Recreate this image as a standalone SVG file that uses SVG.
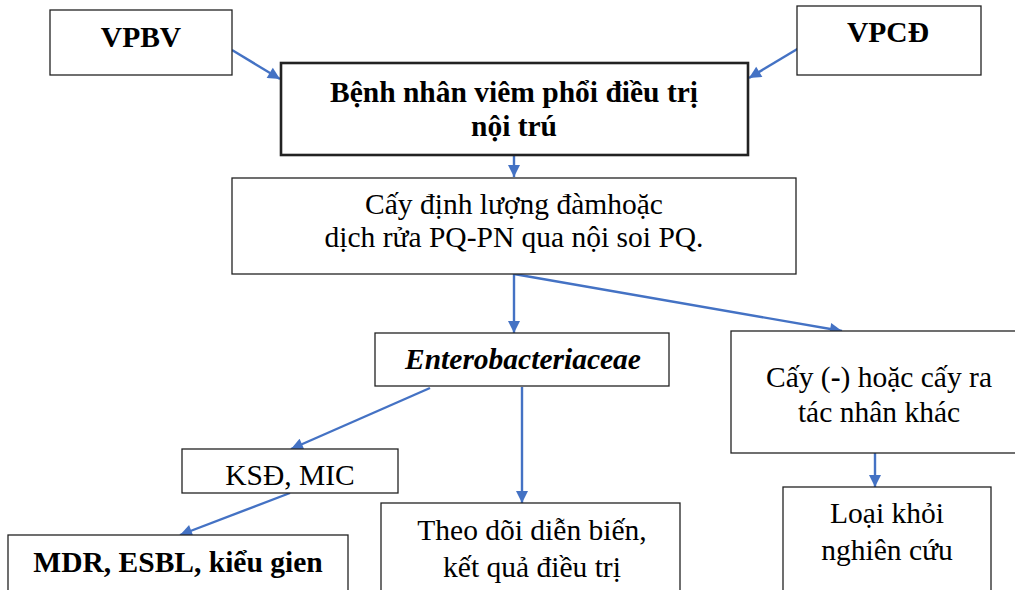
<svg xmlns="http://www.w3.org/2000/svg" width="1015" height="590" viewBox="0 0 1015 590">
<defs>
<marker id="ah" viewBox="0 0 10 10" refX="10" refY="5" markerWidth="5.5" markerHeight="5" orient="auto" markerUnits="strokeWidth">
<path d="M0,0 L10,5 L0,10 z" fill="#4472C4"/>
</marker>
<style>
.box{fill:#fff;stroke:#222;stroke-width:1.3}
.thick{fill:#fff;stroke:#222;stroke-width:2.6}
text{font-size:29.5px;fill:#000;text-anchor:middle}
.b{font-weight:bold}
.i{font-style:italic}
.c{fill:none;stroke:#4472C4;stroke-width:2.4;marker-end:url(#ah)}
</style>
</defs>
<rect width="1015" height="590" fill="#fff"/>
<g id="connectors">
<line class="c" x1="232" y1="50" x2="280" y2="79"/>
<line class="c" x1="799" y1="48" x2="749" y2="78"/>
<line class="c" x1="514" y1="155" x2="514" y2="177"/>
<line class="c" x1="514" y1="274" x2="514" y2="333"/>
<line class="c" x1="514" y1="274" x2="842" y2="331"/>
<line class="c" x1="430" y1="388" x2="291" y2="449"/>
<line class="c" x1="522" y1="387" x2="522" y2="503"/>
<line class="c" x1="290" y1="493" x2="180" y2="535"/>
<line class="c" x1="875" y1="453" x2="875" y2="487"/>
</g>
<g font-family="Liberation Serif, serif">
<g id="vpbv">
<rect class="box" x="50" y="10" width="182" height="65"/>
<text class="b" font-family="Liberation Serif" x="141" y="47">VPBV</text>
</g>
<g id="vpcd">
<rect class="box" x="797" y="6" width="184" height="69"/>
<text class="b" font-family="Liberation Serif" x="888" y="42">VPCĐ</text>
</g>
<g id="main">
<rect class="thick" x="281" y="63" width="467" height="92"/>
<text class="b" font-family="Liberation Serif" x="514" y="102">Bệnh nhân viêm phổi điều trị</text>
<text class="b" font-family="Liberation Serif" x="514" y="136">nội trú</text>
</g>
<g id="culture">
<rect class="box" x="232" y="178" width="564" height="96"/>
<text font-family="Liberation Serif" x="514" y="214">Cấy định lượng đàmhoặc</text>
<text font-family="Liberation Serif" x="514" y="247">dịch rửa PQ-PN qua nội soi PQ.</text>
</g>
<g id="entero">
<rect class="box" x="375" y="333" width="294" height="53"/>
<text class="b i" font-family="Liberation Serif" x="523" y="369">Enterobacteriaceae</text>
</g>
<g id="negative">
<rect class="box" x="731" y="331" width="290" height="122"/>
<text font-family="Liberation Serif" x="879" y="387">Cấy (<tspan font-weight="bold">-</tspan>) hoặc cấy ra</text>
<text font-family="Liberation Serif" x="879" y="422">tác nhân khác</text>
</g>
<g id="ksd">
<rect class="box" x="182" y="449" width="216" height="44"/>
<text font-family="Liberation Serif" x="290" y="485">KSĐ, MIC</text>
</g>
<g id="mdr">
<rect class="box" x="8" y="535" width="340" height="70"/>
<text class="b" font-family="Liberation Serif" x="178" y="572">MDR, ESBL, kiểu gien</text>
</g>
<g id="theodoi">
<rect class="box" x="381" y="503" width="299" height="100"/>
<text font-family="Liberation Serif" x="532" y="540">Theo dõi diễn biến,</text>
<text font-family="Liberation Serif" x="532" y="577">kết quả điều trị</text>
</g>
<g id="loai">
<rect class="box" x="783" y="487" width="208" height="115"/>
<text font-family="Liberation Serif" x="887" y="523">Loại khỏi</text>
<text font-family="Liberation Serif" x="887" y="560">nghiên cứu</text>
</g>
</g>
</svg>
